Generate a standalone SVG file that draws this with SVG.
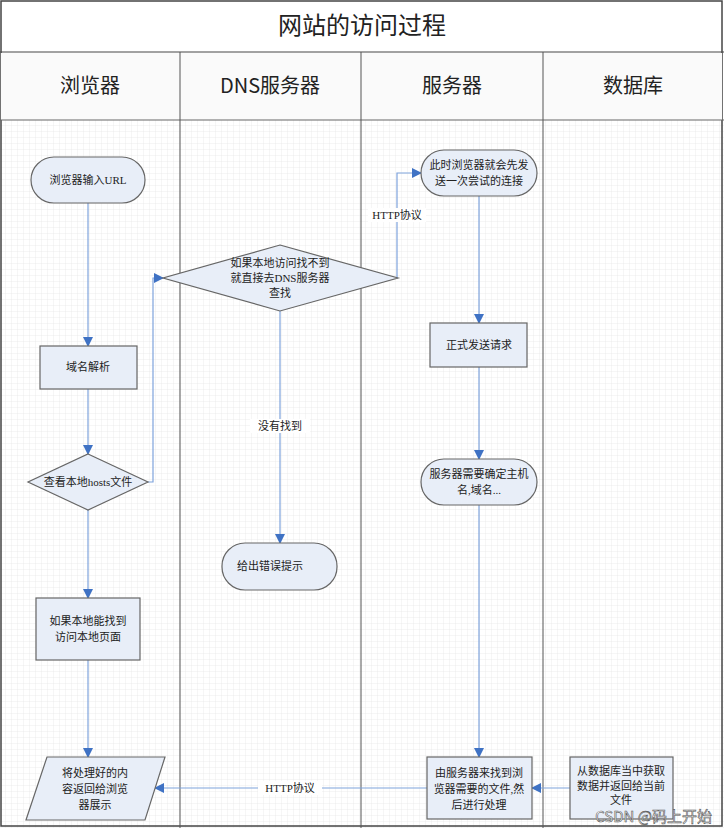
<svg xmlns="http://www.w3.org/2000/svg" width="724" height="828" viewBox="0 0 724 828">
<defs>
<pattern id="g" width="6" height="6" patternUnits="userSpaceOnUse"><path d="M6 0V6H0" fill="none" stroke="#e2e2e2" stroke-width="0.6"/></pattern>
<marker id="a" markerWidth="10" markerHeight="10" refX="9" refY="5" orient="auto" markerUnits="userSpaceOnUse"><path d="M0 0L10 5L0 10Z" fill="#3f72c4"/></marker>
<style>
.n{fill:#e8eef8;stroke:#666;stroke-width:1.2}
.t{font-family:"Liberation Serif","Noto Sans CJK SC",serif;font-size:11px;fill:#222;text-anchor:middle}
.h{font-family:"Noto Sans CJK SC",sans-serif;font-size:20px;fill:#222;text-anchor:middle}
.c{fill:none;stroke:#7fa3dc;stroke-width:1.2;marker-end:url(#a)}
</style>
</defs>
<rect width="724" height="828" fill="#fff"/>
<rect x="0" y="120" width="724" height="708" fill="url(#g)"/>
<rect x="1" y="1" width="721" height="825" fill="none" stroke="#444" stroke-width="1.5"/>
<rect x="1" y="53" width="721" height="67" fill="#fafafa"/>
<line x1="0" y1="52" x2="724" y2="52" stroke="#444"/>
<line x1="0" y1="120" x2="724" y2="120" stroke="#666"/>
<text x="362" y="34" class="h" style="font-size:24px">网站的访问过程</text>
<g stroke="#555"><line x1="180" y1="52" x2="180" y2="828"/><line x1="361" y1="52" x2="361" y2="828"/><line x1="543" y1="52" x2="543" y2="828"/></g>
<text x="90" y="93" class="h">浏览器</text>
<text x="270" y="93" class="h">DNS服务器</text>
<text x="452" y="93" class="h">服务器</text>
<text x="633" y="93" class="h">数据库</text>
<g id="connectors">
<path class="c" d="M88 203V346"/>
<path class="c" d="M88 389V454"/>
<path class="c" d="M148 482H153V278H163"/>
<path class="c" d="M88 510V598"/>
<path class="c" d="M88 660V757"/>
<path class="c" d="M280 311V543"/>
<path class="c" d="M398 278H397V173H421"/>
<path class="c" d="M479 196V323"/>
<path class="c" d="M479 367V459"/>
<path class="c" d="M479 505V757"/>
<path class="c" d="M570 788H532"/>
<path class="c" d="M427 788H155"/>
<rect x="258" y="781" width="64" height="14" fill="#fff"/>
<text x="290" y="792" class="t">HTTP协议</text>
<rect x="250" y="419" width="60" height="14" fill="#fff"/>
<text x="280" y="430" class="t">没有找到</text>
<rect x="368" y="208" width="58" height="14" fill="#fff"/>
<text x="397" y="219" class="t">HTTP协议</text>
</g>
<g id="n1"><rect class="n" x="31" y="157" width="114" height="46" rx="23"/><text x="88" y="184" class="t">浏览器输入URL</text></g>
<g id="n2"><rect class="n" x="40" y="346" width="97" height="43"/><text x="88" y="371" class="t">域名解析</text></g>
<g id="n3"><path class="n" d="M88 454L148 482L88 510L28 482Z"/><text x="88" y="486" class="t">查看本地hosts文件</text></g>
<g id="n4"><rect class="n" x="36" y="598" width="104" height="62"/><text x="88" y="625" class="t">如果本地能找到</text><text x="88" y="641" class="t">访问本地页面</text></g>
<g id="n5"><path class="n" d="M47 757H165L145 820H26Z"/><text x="95" y="777" class="t">将处理好的内</text><text x="95" y="793" class="t">容返回给浏览</text><text x="95" y="809" class="t">器展示</text></g>
<g id="n6"><path class="n" d="M280 245L398 278L280 311L163 278Z"/><text x="280" y="267" class="t">如果本地访问找不到</text><text x="280" y="282" class="t">就直接去DNS服务器</text><text x="280" y="297" class="t">查找</text></g>
<g id="n7"><rect class="n" x="222" y="543" width="115" height="47" rx="23"/><text x="270" y="570" class="t">给出错误提示</text></g>
<g id="n8"><rect class="n" x="421" y="150" width="116" height="46" rx="23"/><text x="479" y="169" class="t">此时浏览器就会先发</text><text x="479" y="185" class="t">送一次尝试的连接</text></g>
<g id="n9"><rect class="n" x="430" y="323" width="97" height="44"/><text x="479" y="349" class="t">正式发送请求</text></g>
<g id="n10"><rect class="n" x="421" y="459" width="116" height="46" rx="23"/><text x="479" y="478" class="t">服务器需要确定主机</text><text x="479" y="494" class="t">名,域名...</text></g>
<g id="n11"><rect class="n" x="427" y="757" width="105" height="62"/><text x="479" y="777" class="t">由服务器来找到浏</text><text x="479" y="793" class="t">览器需要的文件,然</text><text x="479" y="809" class="t">后进行处理</text></g>
<g id="n12"><rect class="n" x="570" y="757" width="103" height="62"/><text x="621" y="775" class="t">从数据库当中获取</text><text x="621" y="790" class="t">数据并返回给当前</text><text x="621" y="804" class="t">文件</text></g>
<text x="712" y="822" style="font-family:'Noto Sans CJK SC',sans-serif;font-size:15px;fill:#fff;stroke:#555;stroke-width:0.6;text-anchor:end">CSDN @码上开始</text>
</svg>
